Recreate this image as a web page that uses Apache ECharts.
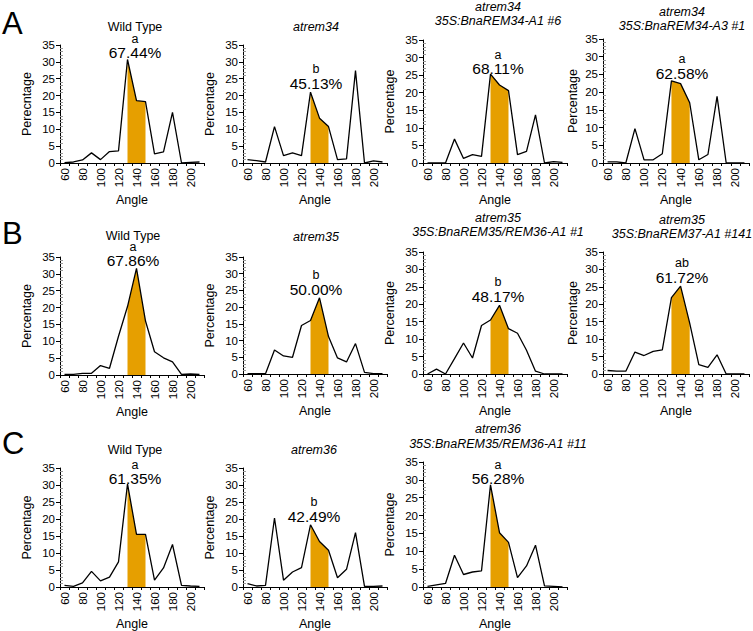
<!DOCTYPE html>
<html><head><meta charset="utf-8">
<script src="https://cdn.jsdelivr.net/npm/echarts@6/dist/echarts.min.js"></script>
<style>html,body{margin:0;padding:0;background:#fff}#c{width:753px;height:631px}</style>
</head><body><div id="c"></div>
<script>
// ---- data ----
const angles = ['60','70','80','90','100','110','120','130','140','150','160','170','180','190','200','210'];
const wildTypeA   = [0.1,0.3,0.9,3.0,1.0,3.4,3.6,30.7,18.5,18.2,2.7,3.3,15.0,0,0.2,0.3];
const atrem34     = [1.0,0.7,0.3,10.8,2.2,3.0,2.2,21.0,13.3,10.8,1.0,1.2,27.4,0,0.6,0.3];
const rem34A1_6   = [0,0,0,6.8,1.3,2.4,1.9,25.3,22.2,20.6,2.4,3.3,13.7,0,0.4,0.2];
const rem34A3_1   = [0.3,0.3,0,9.7,0.9,0.9,2.6,23.2,22.4,17.0,0.9,2.4,18.8,0,0,0];
const wildTypeB   = [0.2,0.2,0.5,0.5,2.8,2.0,11.5,20.3,31.6,16.0,6.9,5.1,3.9,0.2,0.3,0.2];
const atrem35     = [0.1,0.1,0.1,7.2,5.4,5.0,14.5,16.0,22.8,11.2,4.8,3.6,9.1,0.5,0.1,0.1];
const rem35A1_1   = [0,1.4,0,4.4,8.9,4.6,13.9,15.5,19.7,13.0,11.7,6.8,0.8,0,0,0];
const rem37A1_141 = [1.0,0.8,0.8,6.3,5.3,6.5,6.9,21.9,25.2,14.6,2.7,1.9,5.5,0,0,0];
const wildTypeC   = [0.5,0.2,1.2,4.6,1.8,2.9,7.4,30.3,15.5,15.5,2.0,5.6,12.5,0.5,0.3,0.2];
const atrem36     = [1.0,0.3,0.5,20.3,2.0,4.4,5.7,18.3,13.4,10.8,2.7,5.2,16.0,0.2,0.2,0.3];
const rem35A1_11  = [0.2,0.6,1.0,8.9,3.5,4.2,4.5,28.6,15.2,12.5,2.6,5.9,11.7,0.3,0.2,0];
const yTicks = [0,5,10,15,20,25,30,35];
const shadedAngles = ['130','140','150'];

const panelTitles = [
  ['Wild Type'], ['atrem34'], ['atrem34','35S:BnaREM34-A1 #6'], ['atrem34','35S:BnaREM34-A3 #1'],
  ['Wild Type'], ['atrem35'], ['atrem35','35S:BnaREM35/REM36-A1 #1'], ['atrem35','35S:BnaREM37-A1 #141'],
  ['Wild Type'], ['atrem36'], ['atrem36','35S:BnaREM35/REM36-A1 #11']
];
const sigLetters = ['a','b','a','a','a','b','b','ab','a','b','a'];
const percents = ['67.44%','45.13%','68.11%','62.58%','67.86%','50.00%','48.17%','61.72%','61.35%','42.49%','56.28%'];
const yNames = ['Perecntage','Percentage','Percentage','Percentage','Percentage','Percentage','Percentage','Percentage','Percentage','Percentage','Percentage'];
const panelLetters = ['A','B','C'];
const series = [wildTypeA, atrem34, rem34A1_6, rem34A3_1, wildTypeB, atrem35, rem35A1_1, rem37A1_141, wildTypeC, atrem36, rem35A1_11];

// ---- layout ----
const FONT = '"Liberation Sans", Arial, sans-serif';
const layout = [
  {g:[60,45,144,118],  cx:135, tY:[27],      sY:39,  pY:52,  ng:27},
  {g:[243,45,144,118], cx:316, tY:[27],      sY:69,  pY:83,  ng:27},
  {g:[423,40,144,123], cx:498, tY:[7,21],    sY:55,  pY:68,  ng:27},
  {g:[603,39,146,124], cx:682, tY:[12,26],   sY:59,  pY:73,  ng:24},
  {g:[60,257,144,118], cx:133, tY:[236],     sY:247, pY:260, ng:27},
  {g:[243,257,144,117],cx:316, tY:[237],     sY:275, pY:289, ng:27},
  {g:[423,252,144,122],cx:498, tY:[218,232], sY:282, pY:296, ng:27},
  {g:[603,252,146,122],cx:682, tY:[220,234], sY:263, pY:277, ng:24},
  {g:[60,468,144,119], cx:135, tY:[450],     sY:465, pY:478, ng:27},
  {g:[243,468,144,119],cx:314, tY:[450],     sY:502, pY:516, ng:27},
  {g:[423,462,144,125],cx:498, tY:[429,444], sY:465, pY:478, ng:27}
];
const letterY = [8, 218, 428];

const grids = [], xAxes = [], yAxes = [], ser = [], graphics = [];
layout.forEach((L, i) => {
  grids.push({left:L.g[0], top:L.g[1], width:L.g[2], height:L.g[3], containLabel:false});
  xAxes.push({
    type:'category', gridIndex:i, data:angles, boundaryGap:true,
    axisLine:{show:true, lineStyle:{color:'#000', width:1}},
    axisTick:{show:true, interval:0, length:3, lineStyle:{color:'#000'}},
    axisLabel:{interval:1, rotate:90, fontSize:11.5, color:'#000', margin:5, fontFamily:FONT},
    splitLine:{show:false},
    name:'Angle', nameLocation:'middle', nameGap:30,
    nameTextStyle:{fontSize:12.5, color:'#000', fontFamily:FONT}
  });
  yAxes.push({
    type:'value', gridIndex:i, min:yTicks[0], max:yTicks[yTicks.length-1], interval:5, position:'left',
    axisLine:{show:true, lineStyle:{color:'#000', width:1}},
    axisTick:{show:true, length:4, lineStyle:{color:'#000'}},
    axisLabel:{fontSize:11.5, color:'#000', margin:5, fontFamily:FONT},
    splitLine:{show:false},
    name:yNames[i], nameLocation:'middle', nameGap:L.ng,
    nameTextStyle:{fontSize:12.5, color:'#000', fontFamily:FONT}
  });
  yAxes.push({
    type:'value', gridIndex:i, min:yTicks[0], max:yTicks[yTicks.length-1], interval:5, position:'left', offset:0,
    axisLine:{show:false}, axisTick:{show:false, inside:true},
    minorTick:{show:true, splitNumber:5, length:3, lineStyle:{color:'#999', width:1}},
    axisLabel:{show:false}, splitLine:{show:false}, minorSplitLine:{show:false}
  });
  const d = series[i];
  ser.push({
    type:'line', xAxisIndex:i, yAxisIndex:2*i, z:2, symbol:'none', silent:true,
    data: d.map((v,k)=> shadedAngles.includes(angles[k]) ? v : '-'),
    lineStyle:{width:0}, areaStyle:{color:'#E69F00', opacity:1}
  });
  ser.push({
    type:'line', xAxisIndex:i, yAxisIndex:2*i, z:3, symbol:'none', silent:true,
    data:d, lineStyle:{color:'#000', width:1.3}
  });
  const italic = panelTitles[i][0] !== 'Wild Type';
  panelTitles[i].forEach((t, j) => {
    graphics.push({type:'text', x:L.cx, y:L.tY[j], style:{text:t, fill:'#000', font:(italic?'italic ':'')+'12.5px '+FONT, align:'center', verticalAlign:'middle'}});
  });
  graphics.push({type:'text', x:L.cx, y:L.sY, style:{text:sigLetters[i], fill:'#000', font:'12.5px '+FONT, align:'center', verticalAlign:'middle'}});
  graphics.push({type:'text', x:L.cx, y:L.pY, style:{text:percents[i], fill:'#000', font:'15.5px '+FONT, align:'center', verticalAlign:'middle'}});
});
panelLetters.forEach((t, r) => {
  graphics.push({type:'text', x:2, y:letterY[r], style:{text:t, fill:'#000', font:'31px '+FONT, align:'left', verticalAlign:'top'}});
});

const chart = echarts.init(document.getElementById('c'), null, {renderer:'svg'});
chart.setOption({
  animation:false, backgroundColor:'#fff',
  grid:grids, xAxis:xAxes, yAxis:yAxes, series:ser, graphic:graphics
});
</script></body></html>
